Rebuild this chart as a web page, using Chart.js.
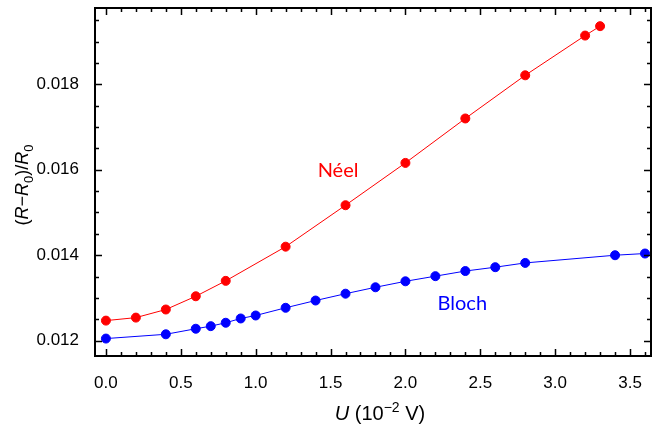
<!DOCTYPE html>
<html>
<head>
<meta charset="utf-8">
<script src="https://cdn.jsdelivr.net/npm/chart.js@4"></script>
<style>
  html, body { margin: 0; padding: 0; background: #fff; }
  #wrap { width: 652px; height: 426px; }
</style>
</head>
<body>
<div id="wrap"><canvas id="chart" width="652" height="426"></canvas></div>
<script>
// Néel wall data
const uNeel = [0, 0.2, 0.4, 0.6, 0.8, 1.2, 1.6, 2.0, 2.4, 2.8, 3.2, 3.3];
const neelValues = [0.01247, 0.01254, 0.01273, 0.01304, 0.01340, 0.01420, 0.01517, 0.01616, 0.01720, 0.01821, 0.01914, 0.01936];

// Bloch wall data
const uBloch = [0, 0.4, 0.6, 0.7, 0.8, 0.9, 1.0, 1.2, 1.4, 1.6, 1.8, 2.0, 2.2, 2.4, 2.6, 2.8, 3.4, 3.6];
const blochValues = [0.01205, 0.01215, 0.01228, 0.01234, 0.01242, 0.01252, 0.01259, 0.01277, 0.01294, 0.01310, 0.01325, 0.01339, 0.01351, 0.01363, 0.01372, 0.01382, 0.01400, 0.01404];

// text labels inside the plot (data coords)
const curveLabels = ["Néel", "Bloch"];
const labelU = [1.55, 2.38];
const labelR = [0.01582, 0.01271];
const labelColors = ["#ff0000", "#0000ff"];

function toPoints(xs, ys) {
  return xs.map((x, i) => ({ x: x, y: ys[i] }));
}

// draws a string made of pieces (italic / sub / sup), centred at x
function drawRich(ctx, segs, x, y, size) {
  const fontFor = (s) => {
    const sz = s.sub || s.sup ? Math.round(size * 0.7) : size;
    return (s.it ? "italic " : "") + sz + "px 'Liberation Sans', Arial, sans-serif";
  };
  let total = 0;
  segs.forEach((s) => {
    ctx.font = fontFor(s);
    total += ctx.measureText(s.t).width;
  });
  let cx = x - total / 2;
  segs.forEach((s) => {
    ctx.font = fontFor(s);
    let dy = 0;
    if (s.sub) dy = size * 0.25;
    if (s.sup) dy = -size * 0.38;
    ctx.fillText(s.t, cx, y + dy);
    cx += ctx.measureText(s.t).width;
  });
}

// frame, inner ticks, axis titles and curve labels
const framePlugin = {
  id: "frame",
  afterDraw(chart) {
    const ctx = chart.ctx;
    const a = chart.chartArea;
    const xs = chart.scales.x;
    const ys = chart.scales.y;
    ctx.save();
    ctx.strokeStyle = "#000";
    ctx.lineWidth = 1.5;

    // x ticks every 0.1, major every 0.5
    for (let i = 0; i <= 36; i++) {
      const px = Math.round(xs.getPixelForValue(i / 10)) + 0.5;
      const len = i % 5 === 0 ? 7 : 4;
      ctx.beginPath();
      ctx.moveTo(px, a.bottom); ctx.lineTo(px, a.bottom - len);
      ctx.moveTo(px, a.top); ctx.lineTo(px, a.top + len);
      ctx.stroke();
    }
    // y ticks every 0.0005, major every 0.002
    for (let i = 24; i <= 39; i++) {
      const py = Math.round(ys.getPixelForValue(i * 0.0005)) + 0.5;
      const len = i % 4 === 0 ? 7 : 4;
      ctx.beginPath();
      ctx.moveTo(a.left, py); ctx.lineTo(a.left + len, py);
      ctx.moveTo(a.right, py); ctx.lineTo(a.right - len, py);
      ctx.stroke();
    }

    ctx.lineWidth = 2;
    ctx.strokeRect(a.left, a.top, a.right - a.left, a.bottom - a.top);

    // curve labels
    ctx.textAlign = "center";
    ctx.textBaseline = "alphabetic";
    ctx.font = "20px Lato, 'Open Sans', sans-serif";
    curveLabels.forEach((t, i) => {
      ctx.fillStyle = labelColors[i];
      ctx.fillText(t, xs.getPixelForValue(labelU[i]), ys.getPixelForValue(labelR[i]));
    });

    // axis titles
    ctx.fillStyle = "#000";
    ctx.textAlign = "left";
    drawRich(ctx, [
      { t: "U", it: true }, { t: " (10" }, { t: "−2", sup: true }, { t: " V)" }
    ], 380, 420, 20);

    ctx.translate(28, 185);
    ctx.rotate(-Math.PI / 2);
    drawRich(ctx, [
      { t: "(" }, { t: "R", it: true }, { t: "−" }, { t: "R", it: true }, { t: "0", sub: true },
      { t: ")/" }, { t: "R", it: true }, { t: "0", sub: true }
    ], 0, 0, 18);
    ctx.restore();
  }
};

new Chart(document.getElementById("chart"), {
  type: "scatter",
  data: {
    datasets: [
      {
        label: "Néel",
        data: toPoints(uNeel, neelValues),
        showLine: true,
        borderColor: "#ff0000",
        backgroundColor: "#ff0000",
        borderWidth: 1,
        pointRadius: 4.5,
        tension: 0,
      },
      {
        label: "Bloch",
        data: toPoints(uBloch, blochValues),
        showLine: true,
        borderColor: "#0000ff",
        backgroundColor: "#0000ff",
        borderWidth: 1,
        pointRadius: 4.5,
        tension: 0,
      },
    ],
  },
  options: {
    responsive: false,
    animation: false,
    layout: { autoPadding: false, padding: { top: 8, right: 1, left: 0, bottom: 0 } },
    plugins: { legend: { display: false }, tooltip: { enabled: false } },
    scales: {
      x: {
        type: "linear",
        min: -0.073,
        max: 3.64,
        grid: { display: false },
        border: { display: false },
        ticks: {
          stepSize: 0.5,
          includeBounds: false,
          color: "#000",
          font: { family: "'Liberation Sans', Arial, sans-serif", size: 17 },
          padding: 9,
          maxRotation: 0,
          callback: (v) => v.toFixed(1),
        },
        afterFit: (s) => { s.height = 70; s.paddingLeft = 0; s.paddingRight = 0; },
      },
      y: {
        type: "linear",
        min: 0.011642,
        max: 0.019785,
        grid: { display: false },
        border: { display: false },
        ticks: {
          stepSize: 0.002,
          includeBounds: false,
          color: "#000",
          font: { family: "'Liberation Sans', Arial, sans-serif", size: 17 },
          padding: 8,
          callback: (v) => v.toFixed(3),
        },
        afterFit: (s) => { s.width = 95; s.paddingTop = 0; s.paddingBottom = 0; },
      },
    },
  },
  plugins: [framePlugin],
});
</script>
</body>
</html>
